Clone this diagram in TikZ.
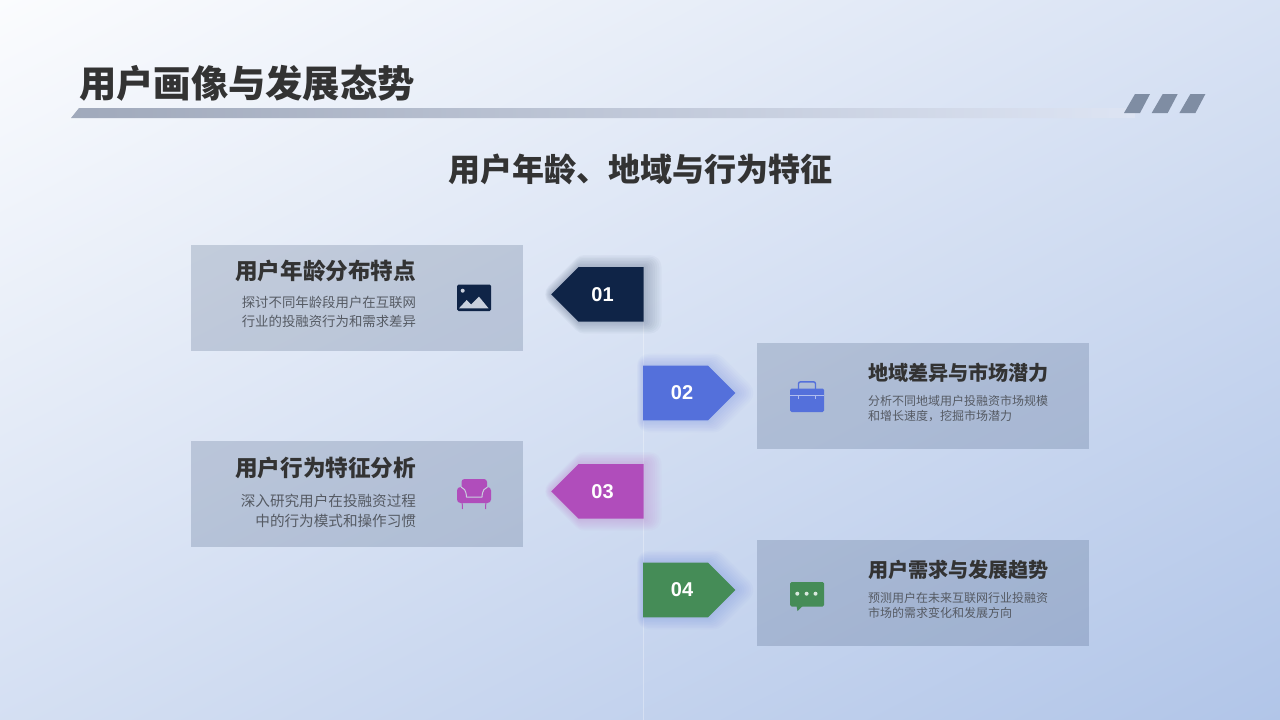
\documentclass[tikz,border=0pt]{standalone}
\usepackage{fontspec}
\usepackage{xcolor}
\setmainfont{Noto Sans CJK SC}
\newfontfamily\numfont{Liberation Sans}
\usetikzlibrary{positioning,shapes.symbols}
\definecolor{bgstart}{HTML}{FFFFFF}
\definecolor{bgmid}{HTML}{DFE7F6}
\definecolor{bgend}{HTML}{ADC2E7}
\definecolor{inkdark}{HTML}{333333}
\definecolor{inkbody}{HTML}{555A63}
\definecolor{cardtint}{HTML}{2D4469}
\definecolor{barstart}{HTML}{A0A9BB}
\definecolor{barend}{HTML}{DDE4F3}
\definecolor{stripe}{HTML}{7F8DA3}
\definecolor{navy}{HTML}{0F2447}
\definecolor{blue}{HTML}{5470DB}
\definecolor{violet}{HTML}{B04DBB}
\definecolor{green}{HTML}{458C57}
\definecolor{cardlight}{HTML}{C9D0DD}
\tikzset{
  card/.style={rectangle,fill=cardtint,fill opacity=.2,minimum width=332pt,minimum height=106pt,inner sep=0pt},
  tagbase/.style={signal,signal pointer angle=90,minimum width=92.3pt,minimum height=54.6pt,inner sep=0pt,line join=round},
  glowpass/.style 2 args={preaction={draw=#1,transform canvas={xshift=.25*#2},opacity=.032,line width=#2}},
  tagglow/.style={
    glowpass={#1}{24pt},glowpass={#1}{21pt},glowpass={#1}{18pt},glowpass={#1}{15pt},
    glowpass={#1}{12pt},glowpass={#1}{9pt},glowpass={#1}{6pt},glowpass={#1}{3pt}},
  tagleft/.style={tagbase,signal to=west,fill=#1},
  tagright/.style={tagbase,signal to=east,fill=#1},
  tagnum/.style={inner sep=0pt,text=white,font=\numfont\bfseries\fontsize{20}{20}\selectfont},
  cardtitle/.style={text width=182pt,inner sep=0pt,text=inkdark,font=\bfseries\fontsize{22.6}{26}\selectfont},
  cardbody/.style={text width=182pt,inner sep=0pt,text=inkbody}
}
\begin{document}
\begin{tikzpicture}[x=1pt,y=-1pt,on grid]
  \useasboundingbox (0,0) rectangle (1280,720);
  \begin{scope}
    \clip (0,0) rectangle (1280,720);
    \shade[left color=bgstart,middle color=bgmid,right color=bgend,shading angle=27] (-40,-320) rectangle (1320,1040);
  \end{scope}
  \shade[left color=barstart,right color=barend] (71,118) -- (79,108) -- (1135,108) -- (1135,118) -- cycle;
  \fill[stripe] (1124,113) -- (1135,94) -- (1150,94) -- (1140,113) -- cycle;
  \fill[stripe] (1151.7,113) -- (1162.7,94) -- (1177.7,94) -- (1167.7,113) -- cycle;
  \fill[stripe] (1179.4,113) -- (1190.4,94) -- (1205.4,94) -- (1195.4,113) -- cycle;
  \node[inner sep=0pt,text=inkdark,font=\bfseries\fontsize{37.3}{42}\selectfont] (pagetitle) at (247,83) {用户画像与发展态势};
  \node[inner sep=0pt,text=inkdark,font=\bfseries\fontsize{32}{36}\selectfont] (subtitle) at (640,169) {用户年龄、地域与行为特征};

  \coordinate (spinetop) at (643,267);
  \coordinate (spinebot) at (643,720);
  \draw[draw=white,opacity=.3,line width=.8pt] (spinetop) -- (spinebot);

  \node[card] (card1) at (357,297.5) {};
  \node[tagleft=navy,tagglow=navy,above right=3.2pt and 254pt of card1] (tag1) {};
  \node[tagright=blue,tagglow=blue,below right=98.7pt and 64.5pt of tag1] (tag2) {};
  \node[card,below right=3.3pt and 247.5pt of tag2] (card2) {};
  \node[tagleft=violet,tagglow=violet,below=197pt of tag1] (tag3) {};
  \node[card,below left=3pt and 254pt of tag3] (card3) {};
  \node[tagright=green,tagglow=blue,below=197pt of tag2] (tag4) {};
  \node[card,below right=3.3pt and 247.5pt of tag4] (card4) {};

  \node[tagnum,left=8.5pt of tag1] (num1) {01};
  \node[tagnum,right=6.5pt of tag2] (num2) {02};
  \node[tagnum,left=8.5pt of tag3] (num3) {03};
  \node[tagnum,right=6.5pt of tag4] (num4) {04};

  \node[cardtitle,align=right,above left=26.5pt and 32pt of card1] (title1) {用户年龄分布特点};
  \node[cardbody,align=right,font=\fontsize{13.4}{18.5}\selectfont,below left=14.5pt and 32pt of card1] (body1) {探讨不同年龄段用户在互联网\\行业的投融资行为和需求差异};
  \node[cardtitle,align=left,font=\bfseries\fontsize{20.1}{24}\selectfont,above right=23.5pt and 36pt of card2] (title2) {地域差异与市场潜力};
  \node[cardbody,align=left,font=\fontsize{12}{15}\selectfont,below right=12pt and 36pt of card2] (body2) {分析不同地域用户投融资市场规模\\和增长速度，挖掘市场潜力};
  \node[cardtitle,align=right,above left=26.5pt and 32pt of card3] (title3) {用户行为特征分析};
  \node[cardbody,align=right,font=\fontsize{14.6}{20}\selectfont,below left=16.5pt and 32pt of card3] (body3) {深入研究用户在投融资过程\\中的行为模式和操作习惯};
  \node[cardtitle,align=left,font=\bfseries\fontsize{20.1}{24}\selectfont,above right=23.5pt and 36pt of card4] (title4) {用户需求与发展趋势};
  \node[cardbody,align=left,font=\fontsize{12}{15}\selectfont,below right=12pt and 36pt of card4] (body4) {预测用户在未来互联网行业投融资\\市场的需求变化和发展方向};

  \fill[navy,rounded corners=1.5pt] (457,284.5) rectangle (491,311);
  \fill[cardlight] (462.7,290.7) circle (2pt);
  \fill[cardlight] (459,308.3) -- (466.7,300) -- (471,304.5) -- (479,296.7) -- (488.5,308.3) -- cycle;

  \draw[blue,line width=1.4pt,rounded corners=2pt] (798.5,389) -- (798.5,381.8) -- (815.5,381.8) -- (815.5,389);
  \fill[blue,rounded corners=1.5pt] (790,388.5) rectangle (824,412);
  \draw[white,opacity=.55,line width=.7pt] (790,395.5) -- (824,395.5);
  \draw[white,opacity=.55,line width=.7pt] (798.5,395.5) -- (798.5,398.5);
  \draw[white,opacity=.55,line width=.7pt] (815.5,395.5) -- (815.5,398.5);

  \draw[violet,line width=1pt] (462,500) -- (462.5,509);
  \draw[violet,line width=1pt] (486,500) -- (485.5,509);
  \fill[violet,rounded corners=3pt] (461.5,479) rectangle (487,497);
  \fill[violet,rounded corners=3.5pt] (457,487) -- (457,503) -- (491,503) -- (491,487) -- cycle;
  \draw[cardlight,line width=1pt,line join=round] (461,487) .. controls (464,488) and (466,490) .. (466.5,497) -- (482,497) .. controls (482.5,490) and (484.5,488) .. (487.5,487);

  \fill[green,rounded corners=1.5pt] (790,582) rectangle (824,606.5);
  \fill[green] (796.5,606) -- (797.5,611) -- (802.5,606) -- cycle;
  \fill[white,opacity=.8] (797.3,593.7) circle (2pt);
  \fill[white,opacity=.8] (806.6,593.7) circle (2pt);
  \fill[white,opacity=.8] (815.5,593.7) circle (2pt);
\end{tikzpicture}
\end{document}
